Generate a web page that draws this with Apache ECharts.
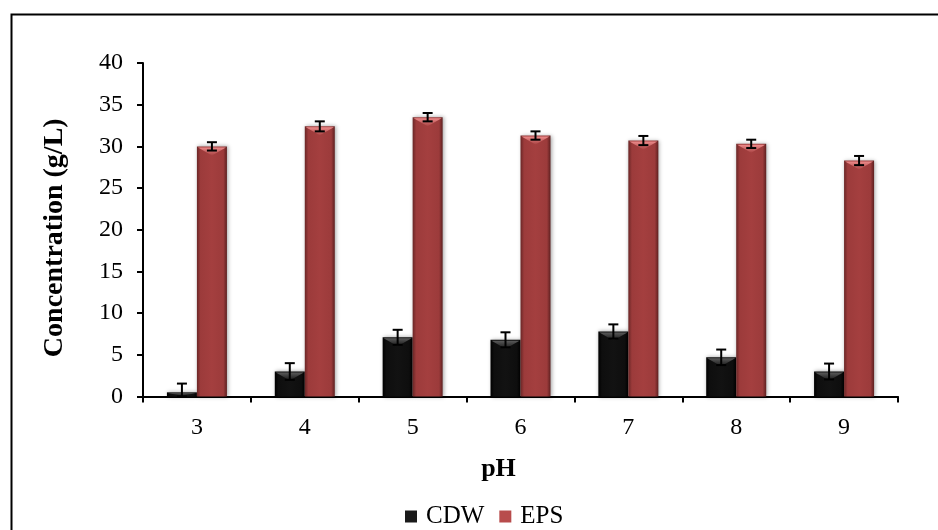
<!DOCTYPE html>
<html>
<head>
<meta charset="utf-8">
<script src="https://cdn.jsdelivr.net/npm/echarts@6/dist/echarts.min.js"></script>
<style>html,body{margin:0;padding:0;background:#fff;}#c{width:938px;height:530px;}</style>
</head>
<body>
<div id="c"></div>
<script>
var categories = ['3', '4', '5', '6', '7', '8', '9'];
var cdwValues = [0.5, 3.0, 7.1, 6.8, 7.8, 4.7, 3.0];
var cdwErrors = [1.05, 1.0, 0.9, 0.9, 0.85, 0.93, 0.95];
var epsValues = [30.0, 32.4, 33.5, 31.3, 30.7, 30.3, 28.3];
var epsErrors = [0.5, 0.6, 0.5, 0.5, 0.55, 0.5, 0.55];
var yTicks = [0, 5, 10, 15, 20, 25, 30, 35, 40];

var FONT = '"Liberation Serif", "Times New Roman", serif';
var BAR_W = 30;

function errData(vals, errs) {
  return vals.map(function (v, i) { return [i, v - errs[i], v + errs[i]]; });
}
function topData(vals) {
  return vals.map(function (v, i) { return [i, v]; });
}

function errRender(offset) {
  return function (params, api) {
    var idx = api.value(0);
    var lo = api.coord([idx, Math.max(0, api.value(1))]);
    var hi = api.coord([idx, api.value(2)]);
    var x = lo[0] + offset;
    var half = 5;
    var st = { stroke: '#000', lineWidth: 2 };
    return {
      type: 'group',
      children: [
        { type: 'line', shape: { x1: x, y1: lo[1], x2: x, y2: hi[1] }, style: st },
        { type: 'line', shape: { x1: x - half, y1: hi[1], x2: x + half, y2: hi[1] }, style: st },
        { type: 'line', shape: { x1: x - half, y1: lo[1], x2: x + half, y2: lo[1] }, style: st }
      ]
    };
  };
}

// bevel highlight at the top of each bar (Excel-like chevron)
function bevelRender(offset, light, base) {
  return function (params, api) {
    var idx = api.value(0);
    var p = api.coord([idx, api.value(1)]);
    var p0 = api.coord([idx, 0]);
    var cx = p[0] + offset;
    var x0 = cx - BAR_W / 2 + 1, x1 = cx + BAR_W / 2 - 1;
    var h = Math.min(9, Math.max(0, p0[1] - p[1] - 1));
    if (h <= 1) return null;
    return {
      type: 'polygon',
      shape: { points: [[x0, p[1] + 1], [x1, p[1] + 1], [cx, p[1] + h]] },
      style: {
        fill: new echarts.graphic.LinearGradient(0, 0, 0, 1, [
          { offset: 0, color: light }, { offset: 1, color: base }
        ])
      }
    };
  };
}

var epsGrad = new echarts.graphic.LinearGradient(0, 0, 1, 0, [
  { offset: 0, color: '#6a2626' },
  { offset: 0.12, color: '#9c3b3b' },
  { offset: 0.5, color: '#a43f3f' },
  { offset: 0.88, color: '#9c3b3b' },
  { offset: 1, color: '#5e2020' }
]);
var cdwGrad = new echarts.graphic.LinearGradient(0, 0, 1, 0, [
  { offset: 0, color: '#000' },
  { offset: 0.12, color: '#0e0e0e' },
  { offset: 0.5, color: '#121212' },
  { offset: 0.88, color: '#0e0e0e' },
  { offset: 1, color: '#000' }
]);

var chart = echarts.init(document.getElementById('c'));
chart.setOption({
  animation: false,
  backgroundColor: '#fff',
  textStyle: { fontFamily: FONT },
  graphic: [{
    type: 'rect', left: 9, top: 12, silent: true,
    shape: { width: 1000, height: 1000 },
    style: { fill: 'none', stroke: '#000', lineWidth: 2 }
  }],
  grid: { left: 143, right: 40, top: 63, bottom: 133.5, containLabel: false },
  legend: {
    bottom: 1, left: 405, padding: 0,
    itemWidth: 12, itemHeight: 12, itemGap: 15,
    icon: 'rect',
    data: [
      { name: 'CDW', itemStyle: { color: '#1a1a1a' } },
      { name: 'EPS', itemStyle: { color: '#b84c4c' } }
    ],
    textStyle: { fontFamily: FONT, fontSize: 25, color: '#000', padding: [0, 0, 0, 4] }
  },
  xAxis: {
    type: 'category',
    data: categories,
    name: 'pH',
    nameLocation: 'middle',
    nameGap: 60,
    nameTextStyle: { fontFamily: FONT, fontSize: 26, fontWeight: 'bold', color: '#000', padding: [0, 44, 0, 0] },
    axisLine: { lineStyle: { color: '#000', width: 2 } },
    axisTick: { show: true, length: 6, lineStyle: { color: '#000', width: 2 } },
    axisLabel: { fontFamily: FONT, fontSize: 24, color: '#000', margin: 19 },
    splitLine: { show: false }
  },
  yAxis: {
    type: 'value',
    min: 0, max: 40, interval: 5,
    name: 'Concentration (g/L)',
    nameLocation: 'middle',
    nameGap: 74,
    nameRotate: 90,
    nameTextStyle: { fontFamily: FONT, fontSize: 28, fontWeight: 'bold', color: '#000', padding: [0, 16, 0, 0] },
    axisLine: { show: true, lineStyle: { color: '#000', width: 2 } },
    axisTick: { show: true, length: 6, lineStyle: { color: '#000', width: 2 } },
    axisLabel: {
      fontFamily: FONT, fontSize: 24, color: '#000', margin: 20,
      formatter: function (v) { return yTicks.indexOf(v) >= 0 ? String(v) : ''; }
    },
    splitLine: { show: false }
  },
  series: [
    {
      name: 'CDW', type: 'bar', data: cdwValues,
      barWidth: BAR_W, barGap: '0%',
      itemStyle: { color: cdwGrad, shadowBlur: 4, shadowColor: 'rgba(0,0,0,0.35)', shadowOffsetX: 1 }
    },
    {
      name: 'EPS', type: 'bar', data: epsValues,
      barWidth: BAR_W, barGap: '0%',
      itemStyle: { color: epsGrad, shadowBlur: 4, shadowColor: 'rgba(0,0,0,0.35)', shadowOffsetX: 1 }
    },
    {
      name: 'CDW bevel', type: 'custom', data: topData(cdwValues),
      renderItem: bevelRender(-BAR_W / 2, '#5a5a5a', '#141414'), z: 5, silent: true,
      encode: { x: 0, y: 1 }
    },
    {
      name: 'EPS bevel', type: 'custom', data: topData(epsValues),
      renderItem: bevelRender(BAR_W / 2, '#ec8a8a', '#a84242'), z: 5, silent: true,
      encode: { x: 0, y: 1 }
    },
    {
      name: 'CDW err', type: 'custom', data: errData(cdwValues, cdwErrors),
      renderItem: errRender(-BAR_W / 2), z: 10, silent: true,
      encode: { x: 0, y: [1, 2] }
    },
    {
      name: 'EPS err', type: 'custom', data: errData(epsValues, epsErrors),
      renderItem: errRender(BAR_W / 2), z: 10, silent: true,
      encode: { x: 0, y: [1, 2] }
    }
  ]
});
</script>
</body>
</html>
